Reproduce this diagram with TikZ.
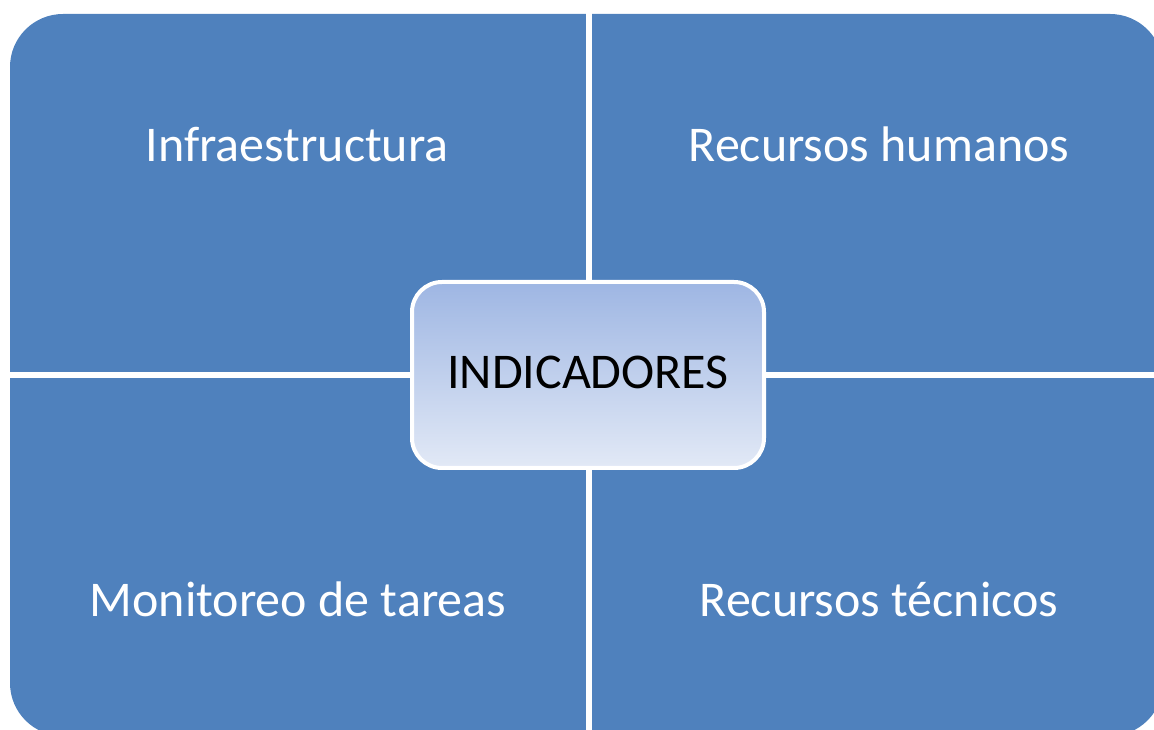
\documentclass[tikz,border=0pt]{standalone}
\usepackage{fontspec}
\setmainfont{Carlito}
\definecolor{azul}{RGB}{79,129,189}
\definecolor{celesteA}{RGB}{158,182,227}
\definecolor{celesteB}{RGB}{226,233,246}
\begin{document}
\begin{tikzpicture}[x=1pt,y=1pt,
    etiqueta/.style={anchor=base,text=white,font=\fontsize{50}{60}\selectfont},
    central/.style={draw=white,line width=4pt,rounded corners=30pt,
      top color=celesteA,bottom color=celesteB,minimum width=352pt,
      minimum height=186pt,font=\fontsize{50}{60}\selectfont}]
  \useasboundingbox (0,0) rectangle (1154,730);
  \clip (0,0) rectangle (1154,730);

  % Dibujar el fondo de los cuatro cuadrantes
  \fill[azul,rounded corners=53pt] (10,-6) rectangle (1163,716);

  % Dibujar las lineas de separacion
  \draw[white,line width=6pt] (589,-10) -- (589,720);
  \draw[white,line width=6pt] (0,355) -- (1160,355);

  % Textos de los cuadrantes
  \node[etiqueta] (infra) at (297,568) {Infraestructura};
  \node[etiqueta] (humanos) at (879,568) {Recursos humanos};
  \node[etiqueta] (tareas) at (298,113) {Monitoreo de tareas};
  \node[etiqueta] (tecnicos) at (879,113) {Recursos técnicos};

  % Recuadro central
  \node[central] (indic) at (588,355) {};
  \node[anchor=base,font=\fontsize{50}{60}\selectfont] (texto) at (588,341) {INDICADORES};
\end{tikzpicture}
\end{document}
